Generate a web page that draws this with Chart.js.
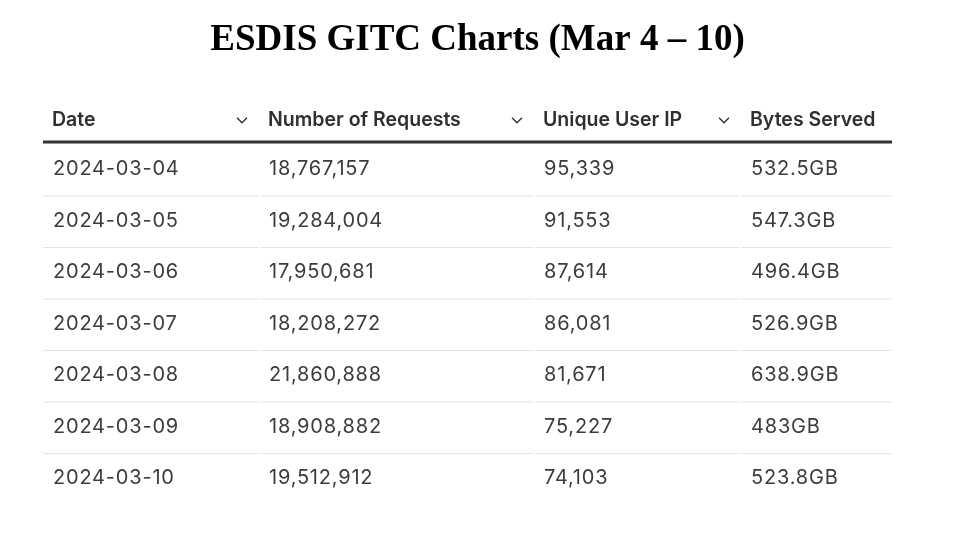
<!DOCTYPE html>
<html><head><meta charset="utf-8">
<script src="https://cdn.jsdelivr.net/npm/chart.js@4"></script>
<style>html,body{margin:0;padding:0;background:#fff}#c{display:block}</style>
</head><body>
<div style="width:955px;height:558px"><canvas id="c"></canvas></div>
<script>
const title = "ESDIS GITC Charts (Mar 4 \u2013 10)";
const headers = ["Date", "Number of Requests", "Unique User IP", "Bytes Served"];
const dates = ["2024-03-04","2024-03-05","2024-03-06","2024-03-07","2024-03-08","2024-03-09","2024-03-10"];
const requests = ["18,767,157","19,284,004","17,950,681","18,208,272","21,860,888","18,908,882","19,512,912"];
const uniqueIPs = ["95,339","91,553","87,614","86,081","81,671","75,227","74,103"];
const bytesServed = ["532.5GB","547.3GB","496.4GB","526.9GB","638.9GB","483GB","523.8GB"];

// column boundaries in x-scale units (layout, not data)
const colEdges = [0, 216, 491, 698, 849];
const columns = [dates, requests, uniqueIPs, bytesServed];

const tablePlugin = {
  id: 'table',
  afterDraw(chart) {
    const ctx = chart.ctx, xs = chart.scales.x, ys = chart.scales.y;
    ctx.save();
    ctx.fillStyle = '#000';
    ctx.font = 'bold 37px "Liberation Serif", "Times New Roman", serif';
    ctx.textAlign = 'center'; ctx.textBaseline = 'middle';
    ctx.fillText(title, chart.width / 2, 40);
    ctx.textAlign = 'left';
    // header
    const hy = ys.getPixelForValue(-1);
    ctx.font = '600 19.5px Inter, "Noto Sans", sans-serif';
    ctx.fillStyle = '#2f2f2f';
    headers.forEach((h, c) => {
      ctx.fillText(h, xs.getPixelForValue(colEdges[c]) + 9, hy);
      if (c < headers.length - 1) {
        const cx = xs.getPixelForValue(colEdges[c + 1]) - 17;
        ctx.strokeStyle = '#333'; ctx.lineWidth = 1.4;
        ctx.beginPath(); ctx.moveTo(cx - 5, hy - 2); ctx.lineTo(cx, hy + 3); ctx.lineTo(cx + 5, hy - 2); ctx.stroke();
      }
    });
    // header line
    const x0 = xs.getPixelForValue(colEdges[0]), x1 = xs.getPixelForValue(colEdges[4]);
    ctx.strokeStyle = '#333'; ctx.lineWidth = 3;
    const ly = ys.getPixelForValue(-0.57);
    ctx.beginPath(); ctx.moveTo(x0, ly); ctx.lineTo(x1, ly); ctx.stroke();
    // rows
    ctx.font = '20px Inter, "Noto Sans", sans-serif';
    ctx.letterSpacing = '0.8px';
    ctx.fillStyle = '#3c3c3c';
    dates.forEach((d, r) => {
      const y = ys.getPixelForValue(r) - 2;
      columns.forEach((col, c) => ctx.fillText(col[r], xs.getPixelForValue(colEdges[c]) + 10, y));
      if (r < dates.length - 1) {
        const gy = ys.getPixelForValue(r + 0.5) - 1;
        ctx.strokeStyle = '#e4e4e4'; ctx.lineWidth = 1;
        for (let c = 0; c < 4; c++) {
          ctx.beginPath();
          ctx.moveTo(xs.getPixelForValue(colEdges[c]) + (c ? 1 : 0), gy);
          ctx.lineTo(xs.getPixelForValue(colEdges[c + 1]) - 1, gy);
          ctx.stroke();
        }
      }
    });
    ctx.restore();
  }
};

new Chart(document.getElementById('c'), {
  type: 'scatter',
  data: { datasets: [{ data: dates.map((d, i) => ({ x: 0, y: i })), pointRadius: 0 }] },
  options: {
    responsive: true, maintainAspectRatio: false, animation: false,
    layout: { padding: { left: 43, right: 63, top: 94, bottom: 52 } },
    plugins: { legend: { display: false }, tooltip: { enabled: false }, title: { display: false } },
    scales: {
      x: { type: 'linear', min: 0, max: 849, display: false },
      y: { type: 'linear', min: -1.5, max: 6.5, reverse: true, display: false }
    }
  },
  plugins: [tablePlugin]
});
</script>
</body></html>
